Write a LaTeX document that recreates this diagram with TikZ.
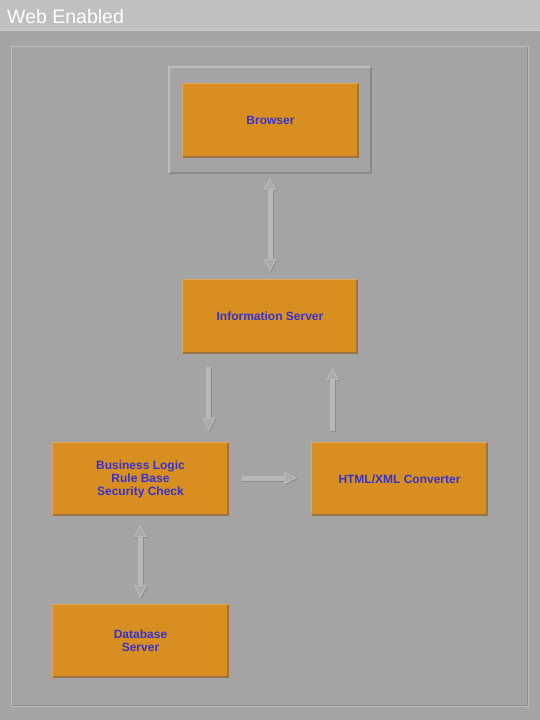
\documentclass[tikz,border=0pt]{standalone}
\usepackage{fontspec}
\setmainfont{Liberation Sans}
\usetikzlibrary{arrows.meta,calc}

\definecolor{barc}{HTML}{C0C0C0}
\definecolor{bgc}{HTML}{A4A4A4}
\definecolor{lightedge}{HTML}{BCBCBC}
\definecolor{darkedge}{HTML}{8A8A8A}
\definecolor{boxc}{HTML}{D98E22}
\definecolor{boxhi}{HTML}{E4A65A}
\definecolor{boxlo}{HTML}{9C7444}
\definecolor{labelc}{HTML}{3434CC}
\definecolor{shaftc}{HTML}{B8B8B8}
\definecolor{shaftlo}{HTML}{8C8C8C}
\definecolor{headc}{HTML}{ABABAB}

\tikzset{
  x=1pt, y=-1pt,
  unit/.style={rectangle, draw=none, fill=boxc, inner sep=0pt,
    minimum width=177pt, minimum height=75pt, text=labelc, align=center,
    font=\bfseries\fontsize{12}{13}\selectfont},
  raised/.style={rectangle, draw=none, inner sep=0pt},
  headtip/.tip={Triangle[length=13pt,width=13pt,line width=1.2pt,fill=headc]},
  tipboth/.style={arrows={headtip-headtip}},
  tipend/.style={arrows={-headtip}},
  pipe/.style={line width=5pt, draw=shaftc,
    preaction={draw=shaftlo, line width=5pt,
      transform canvas={shift={(1pt,-1pt)}}}},
}

\begin{document}
\begin{tikzpicture}
\useasboundingbox (0,0) rectangle (540,720);

% window background and title bar
\fill[bgc] (0,0) rectangle (540,720);
\fill[barc] (0,0) rectangle (540,31);
\draw[line width=1pt, draw=lightedge!80!white] (0,30.5) -- (540,30.5);
\node[anchor=base west, inner sep=0pt, text=white,
      font=\fontsize{19.5}{22}\selectfont] (title) at (7,23.5) {Web Enabled};

% etched panel frame
\draw[line width=1pt, draw=lightedge] (11.5,46.5) rectangle (528.5,706.5);
\draw[line width=1pt, draw=darkedge] (527.5,46.5) -- (527.5,705.5) -- (11.5,705.5);

% raised frame around the browser
\node[raised, minimum width=202pt, minimum height=106pt] (bframe) at (270,120) {};
\draw[line width=2pt, draw=darkedge] (bframe.north east) -- (bframe.south east) -- (bframe.south west);
\draw[line width=2pt, draw=lightedge] (bframe.south west) -- (bframe.north west) -- (bframe.north east);

% components
\node[unit] (browser) at (270.5,120.5) {Browser};
\node[unit, minimum width=176pt] (info) at (270,316.5) {Information Server};
\node[unit, minimum height=74pt] (biz) at (140.5,479) {Business Logic\\Rule Base\\Security Check};
\node[unit, minimum height=74pt] (conv) at (399.5,479) {HTML/XML Converter};
\node[unit, minimum height=74pt] (db) at (140.5,641) {Database\\Server};

% bevelled edges of the components
\foreach \n in {browser,info,biz,conv,db} {
  \draw[line width=2pt, draw=boxlo] ([xshift=-1pt,yshift=-1pt]\n.north east) -- ([xshift=-1pt,yshift=1pt]\n.south east) -- ([xshift=1pt,yshift=1pt]\n.south west);
  \draw[line width=1.5pt, draw=boxhi] ([xshift=0.75pt,yshift=1pt]\n.south west) -- ([xshift=0.75pt,yshift=-0.75pt]\n.north west) -- ([xshift=-1pt,yshift=-0.75pt]\n.north east);
}

% connectors
\draw[pipe, tipboth, shorten <=4pt, shorten >=7pt] (bframe.south) -- (info.north);
\draw[pipe, tipend, shorten <=13pt, shorten >=11pt]
  ($(info.south west)+(27,0)$) -- ($(biz.north west)+(157,0)$);
\draw[pipe, tipend, shorten <=11pt, shorten >=13pt]
  ($(conv.north west)+(22,0)$) -- ($(info.south west)+(151,0)$);
\draw[pipe, tipend, shorten <=13pt, shorten >=14pt]
  ([yshift=1pt]biz.east) -- ([yshift=1pt]conv.west);
\draw[pipe, tipboth, shorten <=8pt, shorten >=6pt] (biz.south) -- (db.north);
\end{tikzpicture}
\end{document}
